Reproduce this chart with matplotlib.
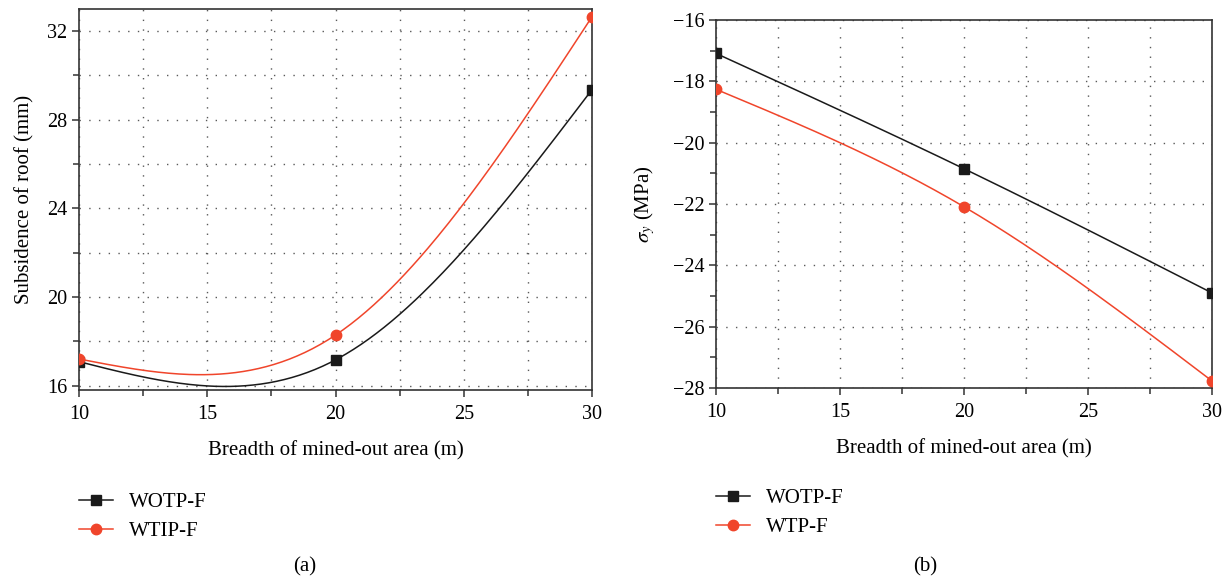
import numpy as np
import matplotlib
matplotlib.use("Agg")
import matplotlib.pyplot as plt
from matplotlib.ticker import MultipleLocator, FuncFormatter

# ── Data ─────────────────────────────────────────────────────────────────────
breadth = [10, 20, 30]

subs_wotp = [17.08, 17.16, 29.36]
subs_wtip = [17.20, 18.28, 32.65]

sig_wotp = [-17.09, -20.85, -24.90]
sig_wtp = [-18.26, -22.09, -27.77]

labels_a = ["WOTP-F", "WTIP-F"]
labels_b = ["WOTP-F", "WTP-F"]

BLACK = "#1a1a1a"
RED = "#f0452b"


def natural_spline(x, y, n=201):
    """Natural cubic spline through the points (as in Origin's spline line)."""
    x = np.asarray(x, float)
    y = np.asarray(y, float)
    m = len(x)
    h = np.diff(x)
    A = np.zeros((m, m))
    r = np.zeros(m)
    A[0, 0] = A[-1, -1] = 1.0
    for i in range(1, m - 1):
        A[i, i - 1] = h[i - 1]
        A[i, i] = 2 * (h[i - 1] + h[i])
        A[i, i + 1] = h[i]
        r[i] = 6 * ((y[i + 1] - y[i]) / h[i] - (y[i] - y[i - 1]) / h[i - 1])
    M = np.linalg.solve(A, r)
    xs = np.linspace(x[0], x[-1], n)
    ys = np.empty_like(xs)
    for k, xv in enumerate(xs):
        i = min(np.searchsorted(x, xv, side="right") - 1, m - 2)
        hi = h[i]
        a = x[i + 1] - xv
        b = xv - x[i]
        ys[k] = (M[i] * a ** 3 / (6 * hi) + M[i + 1] * b ** 3 / (6 * hi)
                 + (y[i] - M[i] * hi ** 2 / 6) * a / hi
                 + (y[i + 1] - M[i + 1] * hi ** 2 / 6) * b / hi)
    idx = [int(np.argmin(np.abs(xs - xv))) for xv in x]
    return xs, ys, idx


def draw(ax, x, y, color, marker, ms, label):
    xs, ys, idx = natural_spline(x, y)
    return ax.plot(xs, ys, color=color, lw=1.1, marker=marker, ms=ms,
                   markevery=idx, label=label, zorder=3)[0]


def style_axes(ax, ygrid_minor):
    for s in ax.spines.values():
        s.set_linewidth(1.2)
        s.set_color("#333333")
    ax.tick_params(which="both", direction="out", width=1.1, color="#333333",
                   labelsize=14.5)
    ax.tick_params(which="major", length=5)
    ax.tick_params(which="minor", length=4)
    ax.tick_params(axis="x", which="major", pad=6)
    grid_kw = dict(color="0.35", lw=1.0, ls=(0, (1, 6)))
    ax.grid(True, which="major", **grid_kw)
    ax.grid(True, which="minor", axis="x", **grid_kw)
    if ygrid_minor:
        ax.grid(True, which="minor", axis="y", **grid_kw)
    ax.set_axisbelow(True)


plt.rcParams["font.family"] = ["Liberation Serif", "DejaVu Serif"]
plt.rcParams["mathtext.fontset"] = "stix"

fig = plt.figure(figsize=(12.29, 5.82), dpi=100)
W, H = 1229, 582
ax1 = fig.add_axes([79 / W, 1 - 390 / H, (592 - 79) / W, (390 - 9) / H])
ax2 = fig.add_axes([716 / W, 1 - 388 / H, (1212 - 716) / W, (388 - 20) / H])

# (a) roof subsidence
h1 = draw(ax1, breadth, subs_wotp, BLACK, "s", 6.5, labels_a[0])
h2 = draw(ax1, breadth, subs_wtip, RED, "o", 7.5, labels_a[1])
ax1.set_xlim(10, 30)
ax1.set_ylim(15.8, 33.0)
ax1.xaxis.set_major_locator(MultipleLocator(5))
ax1.xaxis.set_minor_locator(MultipleLocator(2.5))
ax1.yaxis.set_major_locator(MultipleLocator(4))
ax1.yaxis.set_minor_locator(MultipleLocator(2))
style_axes(ax1, ygrid_minor=True)
ax1.set_xlabel("Breadth of mined-out area (m)", fontsize=15, labelpad=12)
ax1.set_ylabel("Subsidence of roof (mm)", fontsize=15, labelpad=9)

# (b) vertical stress
g1 = draw(ax2, breadth, sig_wotp, BLACK, "s", 6.5, labels_b[0])
g2 = draw(ax2, breadth, sig_wtp, RED, "o", 7.5, labels_b[1])
ax2.set_xlim(10, 30)
ax2.set_ylim(-28, -16)
ax2.xaxis.set_major_locator(MultipleLocator(5))
ax2.xaxis.set_minor_locator(MultipleLocator(2.5))
ax2.yaxis.set_major_locator(MultipleLocator(2))
ax2.yaxis.set_minor_locator(MultipleLocator(1))
style_axes(ax2, ygrid_minor=False)
ax2.yaxis.set_major_formatter(FuncFormatter(lambda v, p: f"\u2212{abs(v):.0f}"))
ax2.set_xlabel("Breadth of mined-out area (m)", fontsize=15, labelpad=12)
ax2.set_ylabel(r"$\sigma_y$ (MPa)", fontsize=15, labelpad=11)

leg_kw = dict(frameon=False, loc="center left", fontsize=15, handlelength=1.65,
              handletextpad=0.75, labelspacing=0.45, numpoints=1,
              bbox_transform=fig.transFigure, borderaxespad=0, borderpad=0)
fig.legend([h1, h2], labels_a, bbox_to_anchor=(79 / W, 1 - 517 / H), **leg_kw)
fig.legend([g1, g2], labels_b, bbox_to_anchor=(716 / W, 1 - 513 / H), **leg_kw)

fig.text(305 / W, 1 - 567 / H, "(a)", ha="center", va="center", fontsize=15)
fig.text(925 / W, 1 - 567 / H, "(b)", ha="center", va="center", fontsize=15)

fig.savefig("out.png", dpi=100)
